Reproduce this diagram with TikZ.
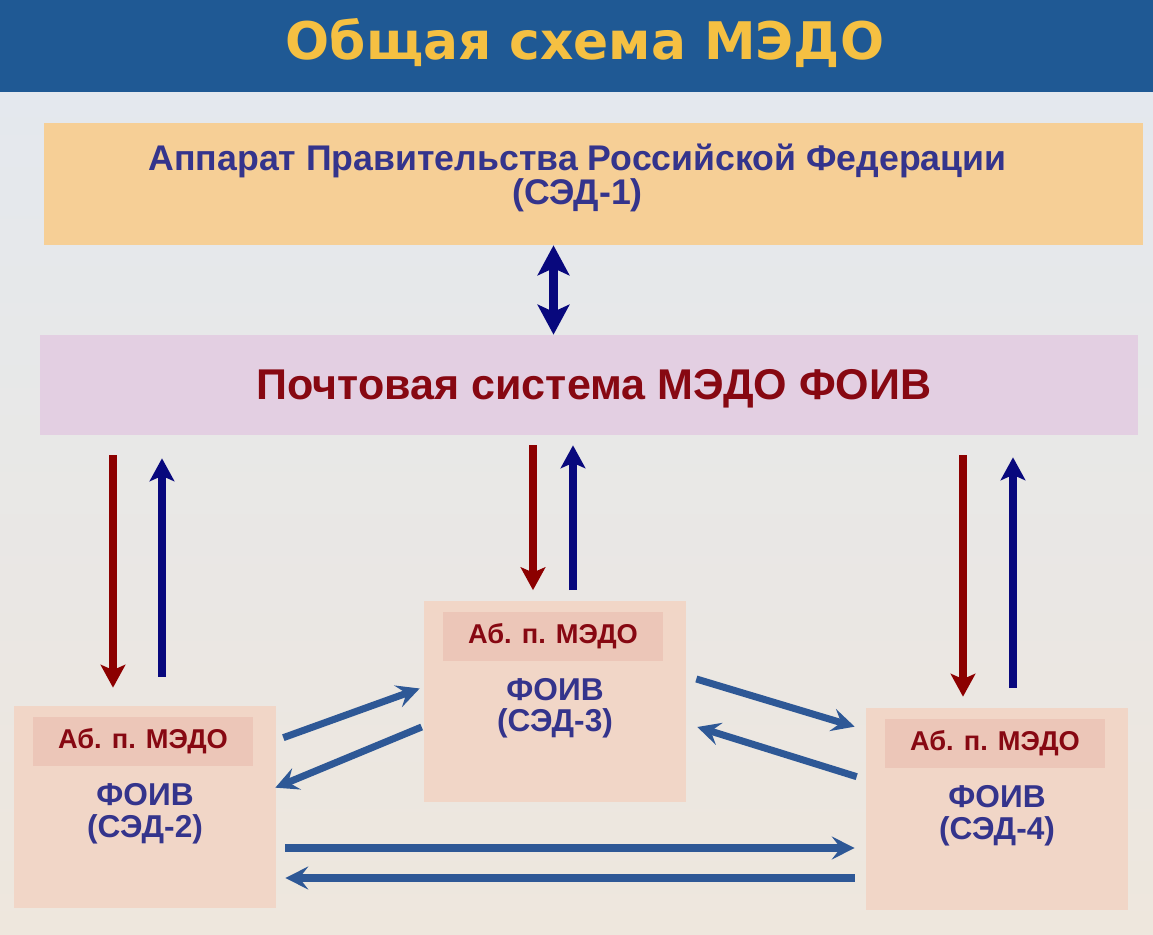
\documentclass[tikz,border=0pt]{standalone}
\usepackage{fontspec}
\setmainfont{Liberation Sans}
\newfontfamily\titlefont{DejaVu Sans}
\usetikzlibrary{arrows.meta,calc}
\definecolor{titlebar}{RGB}{31,89,148}
\definecolor{titletext}{RGB}{245,192,66}
\definecolor{bgtop}{RGB}{228,232,238}
\definecolor{bgbot}{RGB}{238,231,221}
\definecolor{govfill}{RGB}{246,207,150}
\definecolor{mailfill}{RGB}{227,207,226}
\definecolor{foivfill}{RGB}{241,214,199}
\definecolor{abfill}{RGB}{236,198,184}
\definecolor{labred}{RGB}{135,8,18}
\definecolor{inkblue}{RGB}{52,52,140}
\definecolor{arrnavy}{RGB}{8,8,125}
\definecolor{arrred}{RGB}{140,0,0}
\definecolor{steel}{RGB}{46,88,150}

\begin{document}
\begin{tikzpicture}[x=0.02cm,y=-0.02cm,
  foiv/.style={fill=foivfill,inner sep=0pt,minimum width=5.24cm,minimum height=4.04cm},
  abbox/.style={fill=abfill,inner sep=0pt,minimum width=4.42cm,minimum height=0.98cm,
    text=labred,font=\bfseries\fontsize{15.5}{17}\selectfont},
  foivtext/.style={align=center,text=inkblue,font=\bfseries\fontsize{18}{18}\selectfont},
  reddown/.style={arrred,line width=4pt,-{Stealth[length=13pt,width=14pt,inset=3pt]}},
  blueup/.style={arrnavy,line width=4pt,-{Stealth[length=13pt,width=14pt,inset=3pt]}},
  flow/.style={steel,line width=4pt,-{Stealth[length=13pt,width=13pt,inset=5pt]}}]
  \useasboundingbox (0,0) rectangle (1153,935);
  \shade[top color=bgtop,bottom color=bgbot] (0,92) rectangle (1153,935);
  \fill[titlebar] (0,0) rectangle (1153,92);
  \node[text=titletext,font=\titlefont\bfseries\fontsize{29.5}{34}\selectfont] (title) at (585,43) {Общая схема МЭДО};

  \node[fill=govfill,inner sep=0pt,minimum width=21.98cm,minimum height=2.44cm] (gov) at (593.5,184) {};
  \node[align=center,text=inkblue,font=\bfseries\fontsize{20.3}{19.5}\selectfont] (govtext) at ($(gov.center)+(-16,-6)$)
    {Аппарат Правительства Российской Федерации\\(СЭД-1)};
  \node[fill=mailfill,inner sep=0pt,minimum width=21.96cm,minimum height=2cm] (mail) at (589,385) {};
  \node[text=labred,font=\bfseries\fontsize{24.5}{26}\selectfont] (mailtext) at ($(mail.center)+(5,4)$)
    {Почтовая система МЭДО ФОИВ};
  \draw[arrnavy,line width=5pt,{Stealth[length=17pt,width=18pt,inset=4pt]}-{Stealth[length=17pt,width=18pt,inset=4pt]}]
    ($(gov.south)+(-40,0)$) -- ($(gov.south |- mail.north)+(-40,0)$);

  \foreach \i/\x/\y in {2/145/807,3/555/701.5,4/997/809} {
    \node[foiv] (sed\i) at (\x,\y) {};
    \node[abbox] (ab\i) at ($(sed\i.north)+(-2,36)$) {Аб. п. МЭДО};
    \node[foivtext] (name\i) at ($(sed\i.north)+(0,108)$) {ФОИВ\\(СЭД-\i)};
  }

  % mail <-> FOIV
  \draw[reddown] ($(sed2.north |- mail.south)+(-32,20)$) -- ($(sed2.north)+(-32,-18)$);
  \draw[blueup] ($(sed2.north)+(17,-29)$) -- ($(sed2.north |- mail.south)+(17,23)$);
  \draw[reddown] ($(sed3.north |- mail.south)+(-22,10)$) -- ($(sed3.north)+(-22,-10)$);
  \draw[blueup] ($(sed3.north)+(18,-10)$) -- ($(sed3.north |- mail.south)+(18,10)$);
  \draw[reddown] ($(sed4.north |- mail.south)+(-34,20)$) -- ($(sed4.north)+(-34,-11)$);
  \draw[blueup] ($(sed4.north)+(16,-20)$) -- ($(sed4.north |- mail.south)+(16,22)$);

  % FOIV <-> FOIV
  \draw[flow] ($(sed2.north east)+(7,32)$) -- ($(sed3.west)+(-4,-13)$);
  \draw[flow] ($(sed3.west)+(-2,25.5)$) -- ($(sed2.north east)+(-1,82)$);
  \draw[flow] ($(sed3.east)+(10,-22.5)$) -- ($(sed4.north west)+(-11,19)$);
  \draw[flow] ($(sed4.north west)+(-9,69)$) -- ($(sed3.east)+(11,25.5)$);
  \draw[flow] ($(sed2.east)+(9,41)$) -- ($(sed4.west)+(-11,39)$);
  \draw[flow] ($(sed4.west)+(-11,69)$) -- ($(sed2.east)+(9,71)$);
\end{tikzpicture}
\end{document}
